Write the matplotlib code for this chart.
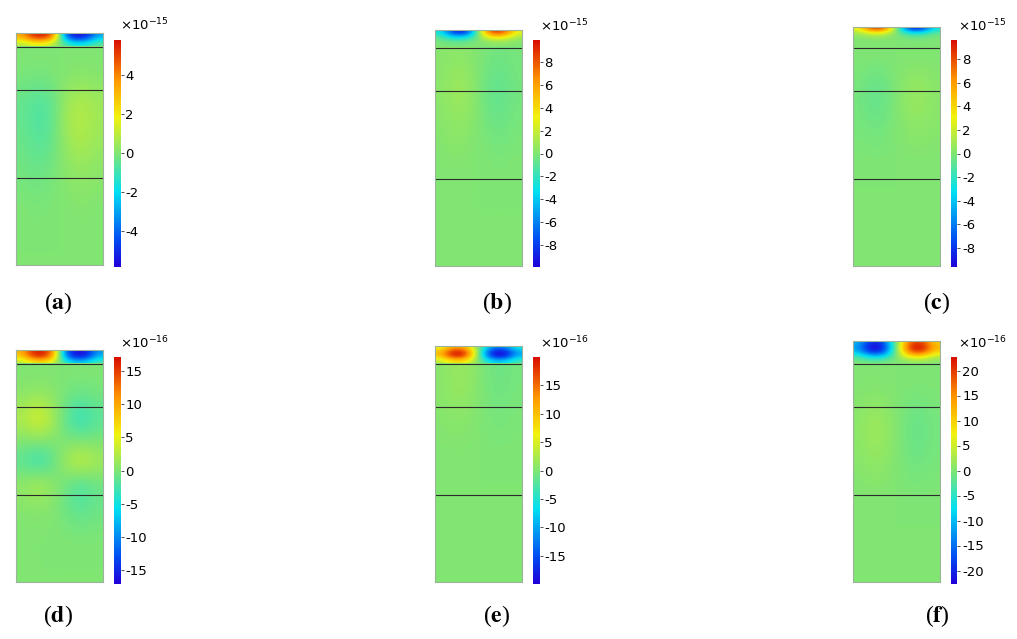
import numpy as np
import matplotlib.pyplot as plt
from matplotlib.colors import LinearSegmentedColormap

plt.rcParams['axes.unicode_minus'] = False

# panels and colour ranges (values in units of the colorbar exponent)
panels = ['a', 'b', 'c', 'd', 'e', 'f']
exponents = [-15, -15, -15, -16, -16, -16]
vmax = [5.85, 9.9, 9.6, 17.1, 20.0, 22.7]
ticks = [[-4, -2, 0, 2, 4],
         [-8, -6, -4, -2, 0, 2, 4, 6, 8],
         [-8, -6, -4, -2, 0, 2, 4, 6, 8],
         [-15, -10, -5, 0, 5, 10, 15],
         [-15, -10, -5, 0, 5, 10, 15],
         [-20, -15, -10, -5, 0, 5, 10, 15, 20]]

# layer stack (bottom to top), same units for every panel
layer_thick = [87, 88, 43.5]
top_thick = [14, 18, 21, 14, 17.6, 22.6]
width = 87

# field in the top layer (rows top -> bottom, columns left -> right)
top_a = [[3.5, 5.5, 5.9, 4.5, -4.0, -5.9, -5.5, -3.0],
         [2.5, 4.2, 4.6, 2.8, -2.6, -4.6, -4.0, -2.0],
         [0.8, 1.5, 1.7, 0.8, -0.8, -1.7, -1.5, -0.6]]
top_b = [[-3.0, -8.0, -9.9, -5.0, 5.0, 9.9, 8.0, 3.0],
         [-1.5, -4.5, -5.5, -2.5, 2.5, 5.5, 4.5, 1.5],
         [-0.3, -1.0, -1.2, -0.5, 0.5, 1.2, 1.0, 0.3],
         [0.0, -0.2, -0.2, 0.0, 0.0, 0.2, 0.2, 0.0]]
top_c = [[3.0, 8.0, 9.6, 4.0, -4.0, -9.6, -8.0, -3.0],
         [1.2, 3.0, 3.5, 1.5, -1.5, -3.5, -3.0, -1.2],
         [0.2, 0.6, 0.7, 0.3, -0.3, -0.7, -0.6, -0.2],
         [0.0, 0.1, 0.1, 0.0, 0.0, -0.1, -0.1, 0.0],
         [0.0, 0.0, 0.0, 0.0, 0.0, 0.0, 0.0, 0.0]]
top_d = [[9.0, 16.0, 17.0, 11.0, -11.0, -17.0, -16.0, -9.0],
         [7.0, 14.0, 15.5, 9.0, -9.0, -15.5, -14.0, -7.0],
         [2.5, 6.0, 7.0, 3.5, -3.5, -7.0, -6.0, -2.5]]
top_e = [[5.0, 11.0, 12.0, 5.0, -5.0, -12.0, -11.0, -5.0],
         [10.0, 19.0, 20.0, 9.0, -9.0, -20.0, -19.0, -10.0],
         [9.0, 18.0, 19.0, 8.0, -8.0, -19.0, -18.0, -9.0],
         [3.0, 7.0, 8.0, 3.0, -3.0, -8.0, -7.0, -3.0]]
top_f = [[-10.0, -19.0, -20.0, -8.0, 8.0, 20.0, 19.0, 10.0],
         [-12.0, -22.0, -22.7, -10.0, 10.0, 22.7, 22.0, 12.0],
         [-10.0, -19.0, -20.0, -8.0, 8.0, 20.0, 19.0, 10.0],
         [-4.0, -9.0, -10.0, -4.0, 4.0, 10.0, 9.0, 4.0],
         [-0.5, -1.5, -1.5, -0.5, 0.5, 1.5, 1.5, 0.5]]

# field in the three lower layers (rows top -> bottom)
lower_a = [[0, 0, 0, 0, 0, 0],
           [-0.1, -0.2, -0.1, 0.1, 0.2, 0.1],
           [-0.4, -0.7, -0.5, 0.5, 0.8, 0.5],
           [-0.4, -0.8, -0.5, 0.6, 0.9, 0.5],
           [-0.3, -0.6, -0.4, 0.4, 0.7, 0.4],
           [-0.2, -0.4, -0.2, 0.2, 0.4, 0.2],
           [-0.1, -0.2, -0.1, 0.1, 0.2, 0.1],
           [0, -0.1, 0, 0, 0.1, 0],
           [0, 0, 0, 0, 0, 0],
           [0, 0, 0, 0, 0, 0]]
lower_b = [[0.2, 0.4, 0.2, -0.2, -0.4, -0.2],
           [0.3, 0.8, 0.5, -0.5, -0.8, -0.3],
           [0.3, 0.8, 0.5, -0.5, -0.8, -0.3],
           [0.2, 0.5, 0.3, -0.3, -0.5, -0.2],
           [0.1, 0.3, 0.1, -0.1, -0.3, -0.1],
           [0, 0.1, 0, 0, -0.1, 0],
           [0, 0, 0, 0, 0, 0],
           [0, 0, 0, 0, 0, 0],
           [0, 0, 0, 0, 0, 0],
           [0, 0, 0, 0, 0, 0]]
lower_c = [[0, 0, 0, 0, 0, 0],
           [-0.2, -0.6, -0.3, 0.3, 0.6, 0.2],
           [-0.3, -0.8, -0.4, 0.4, 0.8, 0.3],
           [-0.2, -0.4, -0.2, 0.2, 0.4, 0.2],
           [-0.1, -0.2, -0.1, 0.1, 0.2, 0.1],
           [0, 0, 0, 0, 0, 0],
           [0, 0, 0, 0, 0, 0],
           [0, 0, 0, 0, 0, 0],
           [0, 0, 0, 0, 0, 0],
           [0, 0, 0, 0, 0, 0]]
lower_d = [[0, 0, 0, 0, 0, 0],
           [0.5, 1.0, 0.5, -0.5, -1.0, -0.5],
           [2.5, 5.0, 2.5, -2.0, -4.0, -2.0],
           [0.3, 0.5, 0.3, -0.3, -0.5, -0.3],
           [-2.0, -4.0, -2.0, 2.0, 4.0, 2.0],
           [1.0, 2.5, 1.0, -1.0, -2.5, -1.0],
           [0.3, 0.5, 0.3, -1.0, -2.0, -1.0],
           [0, 0, 0, -0.3, -0.5, -0.3],
           [0, 0, 0, 0, 0, 0],
           [0, 0, 0, 0, 0, 0]]
lower_e = [[0.5, 1.5, 1.0, -0.5, -1.0, -0.5],
           [0.5, 1.2, 0.8, -0.4, -0.8, -0.4],
           [0.3, 0.6, 0.3, -0.2, -0.5, -0.2],
           [0.2, 0.3, 0.2, -0.1, -0.3, -0.1],
           [0, 0, 0, 0, 0, 0],
           [0, 0, 0, 0, 0, 0],
           [0, 0, 0, 0, 0, 0],
           [0, 0, 0, 0, 0, 0],
           [0, 0, 0, 0, 0, 0],
           [0, 0, 0, 0, 0, 0]]
lower_f = [[0, 0, 0, 0, 0, 0],
           [0.2, 0.5, 0.2, -0.2, -0.4, -0.2],
           [0.8, 2.0, 1.0, -0.6, -1.5, -0.6],
           [0.8, 2.0, 1.0, -0.6, -1.5, -0.6],
           [0.5, 1.2, 0.6, -0.4, -1.0, -0.4],
           [0.2, 0.5, 0.2, -0.2, -0.4, -0.2],
           [0, 0, 0, 0, 0, 0],
           [0, 0, 0, 0, 0, 0],
           [0, 0, 0, 0, 0, 0],
           [0, 0, 0, 0, 0, 0]]

top_fields = [top_a, top_b, top_c, top_d, top_e, top_f]
lower_fields = [lower_a, lower_b, lower_c, lower_d, lower_e, lower_f]

# rainbow map similar to the solver output
rainbow = LinearSegmentedColormap.from_list('rainbow_light', [
    (0.0, (0.12, 0.0, 0.85)),
    (0.12, (0.0, 0.3, 0.95)),
    (0.33, (0.0, 0.88, 0.95)),
    (0.5, (0.5, 0.9, 0.45)),
    (0.66, (0.95, 0.95, 0.05)),
    (0.82, (1.0, 0.6, 0.0)),
    (1.0, (0.85, 0.05, 0.0)),
])

W, H = 1017, 639
fig = plt.figure(figsize=(W / 100, H / 100), dpi=100)

# pixel layout: rect left, rect bottom, colorbar top/bottom, label centre
rect_left = [16, 435, 853, 16, 435, 853]
rect_bottom = [265, 266, 266, 582, 582, 582]
cbar_top = [39.5, 40, 40, 357, 357, 357]
cbar_bottom = [267, 267, 267, 584, 584, 584]
label_x = [58, 497, 937, 58, 497, 937]
label_y = [303, 303, 303, 616, 616, 616]

base = sum(layer_thick)
for i, name in enumerate(panels):
    total = base + top_thick[i]
    ax = fig.add_axes([rect_left[i] / W, 1 - rect_bottom[i] / H,
                       width / W, total / H])
    kw = dict(cmap=rainbow, vmin=-vmax[i], vmax=vmax[i], aspect='auto',
              interpolation='bicubic', interpolation_stage='data')
    im = ax.imshow(np.array(top_fields[i], float),
                   extent=(0, width, base, total), **kw)
    ax.imshow(np.array(lower_fields[i], float),
              extent=(0, width, 0, base), **kw)
    ax.set_xlim(0, width)
    ax.set_ylim(0, total)
    for y in np.cumsum(layer_thick):
        ax.axhline(y, color='#2b2b2b', lw=0.8)
    ax.set_xticks([])
    ax.set_yticks([])
    for s in ax.spines.values():
        s.set_color('#9cb49c')
        s.set_linewidth(0.8)

    cl = rect_left[i] + 97.5
    cax = fig.add_axes([cl / W, 1 - cbar_bottom[i] / H, 7 / W,
                        (cbar_bottom[i] - cbar_top[i]) / H])
    cb = fig.colorbar(im, cax=cax, ticks=ticks[i])
    cb.outline.set_visible(False)
    cax.tick_params(length=2, width=0.6, pad=1.5, labelsize=9.5,
                    color='#333333')
    fig.text((cl + 7) / W, 1 - (cbar_top[i] - 9) / H,
             r'$\times10^{%d}$' % exponents[i], fontsize=9.5, va='baseline')

    fig.text(label_x[i] / W, 1 - label_y[i] / H,
             r'($\mathbf{%s}$)' % name, family='Liberation Serif',
             math_fontfamily='stix', fontsize=17, ha='center', va='center')

fig.savefig('out.png', dpi=100)
